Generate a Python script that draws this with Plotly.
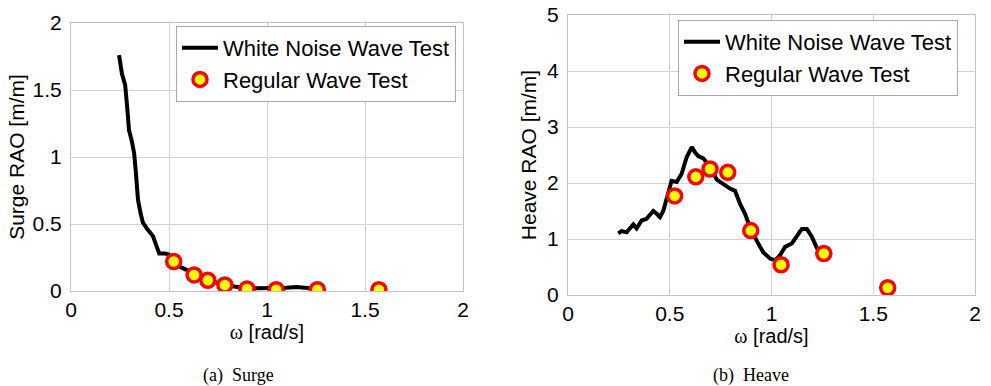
import plotly.graph_objects as go

# ---- Data ----
surge_wn_w = [0.245, 0.25, 0.26, 0.27, 0.276, 0.285, 0.296, 0.31, 0.322, 0.33, 0.342, 0.355,
              0.367, 0.39, 0.418, 0.435, 0.45, 0.48, 0.50, 0.53, 0.556, 0.60, 0.65, 0.70,
              0.75, 0.80, 0.85, 0.90, 0.95, 1.00, 1.05, 1.10, 1.15, 1.20, 1.22]
surge_wn_rao = [1.76, 1.70, 1.62, 1.57, 1.54, 1.40, 1.20, 1.12, 1.03, 0.90, 0.68, 0.58,
                0.51, 0.46, 0.41, 0.34, 0.28, 0.28, 0.27, 0.22, 0.18, 0.15, 0.11, 0.08,
                0.06, 0.04, 0.03, 0.02, 0.02, 0.02, 0.02, 0.025, 0.03, 0.025, 0.02]

reg_w = [0.524, 0.628, 0.698, 0.785, 0.898, 1.047, 1.257, 1.571]
surge_reg_rao = [0.22, 0.12, 0.08, 0.045, 0.015, 0.01, 0.01, 0.01]
heave_reg_rao = [1.77, 2.11, 2.25, 2.19, 1.15, 0.54, 0.74, 0.13]

heave_wn_w = [0.247, 0.263, 0.288, 0.321, 0.337, 0.362, 0.386, 0.419, 0.436, 0.452, 0.468,
              0.493, 0.509, 0.534, 0.558, 0.583, 0.608, 0.624, 0.640, 0.665, 0.698, 0.731,
              0.763, 0.796, 0.821, 0.845, 0.870, 0.894, 0.927, 0.960, 0.993, 1.018, 1.042,
              1.067, 1.100, 1.124, 1.149, 1.174, 1.198, 1.223, 1.239]
heave_wn_rao = [1.10, 1.14, 1.12, 1.26, 1.19, 1.33, 1.36, 1.50, 1.45, 1.39, 1.50,
                1.85, 2.04, 2.02, 2.16, 2.46, 2.64, 2.55, 2.48, 2.44, 2.29, 2.06,
                1.98, 1.90, 1.86, 1.63, 1.45, 1.21, 0.97, 0.76, 0.65, 0.62, 0.71,
                0.86, 0.92, 1.04, 1.18, 1.18, 1.04, 0.84, 0.75]

x_ticks = [0, 0.5, 1, 1.5, 2]
x_tick_text = ["0", "0.5", "1", "1.5", "2"]
surge_ticks = [0, 0.5, 1, 1.5, 2]
surge_tick_text = ["0", "0.5", "1", "1.5", "2"]
heave_ticks = [0, 1, 2, 3, 4, 5]
heave_tick_text = ["0", "1", "2", "3", "4", "5"]

wn_name = "White Noise Wave Test"
reg_name = "Regular Wave Test"

FONT = "Liberation Sans, Arial, sans-serif"
SERIF = "Liberation Serif, Times New Roman, serif"

fig = go.Figure()

line_style = dict(color="black", width=4)
marker_style = dict(symbol="circle", size=14, color="#ffff00", line=dict(color="#ff0000", width=3.5))

fig.add_trace(go.Scatter(x=surge_wn_w, y=surge_wn_rao, mode="lines", line=line_style,
                         name=wn_name, xaxis="x", yaxis="y", legend="legend"))
fig.add_trace(go.Scatter(x=reg_w, y=surge_reg_rao, mode="markers", marker=marker_style,
                         name=reg_name, xaxis="x", yaxis="y", legend="legend"))
fig.add_trace(go.Scatter(x=heave_wn_w, y=heave_wn_rao, mode="lines", line=line_style,
                         name=wn_name, xaxis="x2", yaxis="y2", legend="legend2"))
fig.add_trace(go.Scatter(x=reg_w, y=heave_reg_rao, mode="markers", marker=marker_style,
                         name=reg_name, xaxis="x2", yaxis="y2", legend="legend2"))

axis_common = dict(showgrid=True, gridcolor="#d2d2d2", gridwidth=1,
                   showline=True, linecolor="#c4c4c4", linewidth=1, mirror=True,
                   zeroline=False, ticks="", tickfont=dict(family=FONT, size=21, color="black"),
                   automargin=False)

xtitle = '<span style="font-family:Liberation Serif">ω</span> [rad/s]'

legend_common = dict(xanchor="left", yanchor="top", bgcolor="white", bordercolor="#a8a8a8",
                     borderwidth=1, font=dict(family=FONT, size=22), tracegroupgap=0,
                     itemwidth=36)

fig.update_layout(
    width=991, height=386,
    margin=dict(l=0, r=0, t=0, b=0),
    paper_bgcolor="white", plot_bgcolor="white",
    font=dict(family=FONT, size=21, color="black"),
    xaxis=dict(domain=[71/991, 463/991], range=[0, 2], tickvals=x_ticks, ticktext=x_tick_text,
               anchor="y", title=dict(text=xtitle, font=dict(size=20), standoff=1), **axis_common),
    yaxis=dict(domain=[1-291/386, 1-23/386], range=[0, 2], tickvals=surge_ticks,
               ticktext=surge_tick_text, anchor="x", ticklabelstandoff=4,
               title=dict(text="Surge RAO [m/m]", font=dict(size=21), standoff=2), **axis_common),
    xaxis2=dict(domain=[568/991, 975/991], range=[0, 2], tickvals=x_ticks, ticktext=x_tick_text,
                anchor="y2", title=dict(text=xtitle, font=dict(size=20), standoff=1), **axis_common),
    yaxis2=dict(domain=[1-295/386, 1-15/386], range=[0, 5], tickvals=heave_ticks,
                ticktext=heave_tick_text, anchor="x2", ticklabelstandoff=4,
                title=dict(text="Heave RAO [m/m]", font=dict(size=21), standoff=4), **axis_common),
    legend=dict(x=176/991, y=1-26/386, **legend_common),
    legend2=dict(x=678/991, y=1-20/386, **legend_common),
    annotations=[
        dict(text="(a)\u00a0 Surge", x=238.5/991, y=1-375/386, xref="paper", yref="paper",
             showarrow=False, xanchor="center", yanchor="middle",
             font=dict(family=SERIF, size=18, color="black")),
        dict(text="(b)\u00a0 Heave", x=751/991, y=1-375/386, xref="paper", yref="paper",
             showarrow=False, xanchor="center", yanchor="middle",
             font=dict(family=SERIF, size=18, color="black")),
    ],
)

fig.write_html("out.html", config={"displayModeBar": False},
               post_script="document.body.style.margin='0';document.body.style.padding='0';")
